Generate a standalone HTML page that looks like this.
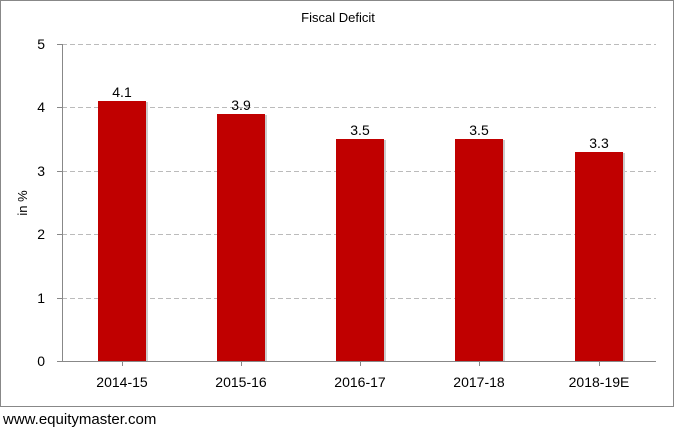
<!DOCTYPE html><html><head><style>body{margin:0;background:#fff}svg text{font-family:"Liberation Sans",sans-serif}</style></head><body>
<svg width="675" height="430" xmlns="http://www.w3.org/2000/svg">
<rect x="0.5" y="0.5" width="673" height="406" fill="#fff" stroke="#888"/>
<text x="338" y="22" font-size="13" text-anchor="middle" fill="#000">Fiscal Deficit</text>
<g stroke="#bbb" stroke-dasharray="5,3">
<line x1="62" x2="656" y1="44.5" y2="44.5"/><line x1="62" x2="656" y1="107.5" y2="107.5"/><line x1="62" x2="656" y1="171.5" y2="171.5"/><line x1="62" x2="656" y1="234.5" y2="234.5"/><line x1="62" x2="656" y1="298.5" y2="298.5"/></g>
<g fill="#c00000">
<rect x="98" y="101" width="48" height="260"/><rect x="217" y="114" width="48" height="247"/><rect x="336" y="139" width="48" height="222"/><rect x="455" y="139" width="48" height="222"/><rect x="575" y="152" width="48" height="209"/></g>
<g fill="#ccc"><rect x="146" y="102" width="2" height="259"/><rect x="265" y="115" width="2" height="246"/><rect x="384" y="140" width="2" height="221"/><rect x="503" y="140" width="2" height="221"/><rect x="623" y="153" width="2" height="208"/></g>
<line x1="62.5" y1="44" x2="62.5" y2="361" stroke="#888"/>
<line x1="57" y1="361.5" x2="656" y2="361.5" stroke="#888"/>
<g stroke="#888"><line x1="57" x2="62" y1="44.5" y2="44.5"/><line x1="57" x2="62" y1="107.5" y2="107.5"/><line x1="57" x2="62" y1="171.5" y2="171.5"/><line x1="57" x2="62" y1="234.5" y2="234.5"/><line x1="57" x2="62" y1="298.5" y2="298.5"/>
<line x1="122.5" x2="122.5" y1="361" y2="366"/><line x1="241.5" x2="241.5" y1="361" y2="366"/><line x1="360.5" x2="360.5" y1="361" y2="366"/><line x1="479.5" x2="479.5" y1="361" y2="366"/><line x1="599.5" x2="599.5" y1="361" y2="366"/></g>
<g font-size="14" text-anchor="end" fill="#000"><text x="45" y="49">5</text><text x="45" y="112">4</text><text x="45" y="176">3</text><text x="45" y="239">2</text><text x="45" y="303">1</text><text x="45" y="366">0</text></g>
<text transform="translate(27,203) rotate(-90)" font-size="13" text-anchor="middle">in %</text>
<g font-size="14" text-anchor="middle"><text x="122" y="97">4.1</text><text x="241" y="110">3.9</text><text x="360" y="135">3.5</text><text x="479" y="135">3.5</text><text x="599" y="148">3.3</text>
<text x="122" y="387">2014-15</text><text x="241" y="387">2015-16</text><text x="360" y="387">2016-17</text><text x="479" y="387">2017-18</text><text x="599" y="387">2018-19E</text></g>
<text x="3" y="424" font-size="15">www.equitymaster.com</text>
</svg></body></html>
